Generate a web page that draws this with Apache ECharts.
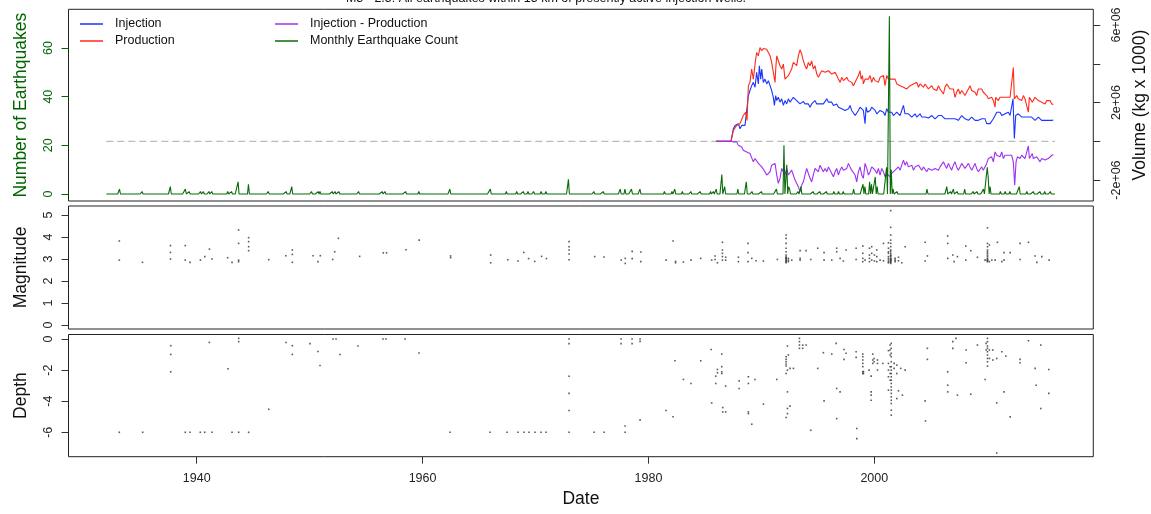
<!DOCTYPE html>
<html><head><meta charset="utf-8">
<script src="https://cdn.jsdelivr.net/npm/echarts@6/dist/echarts.min.js"></script>
<style>html,body{margin:0;padding:0;background:#fff}#c{width:1151px;height:514px}</style>
</head><body><div id="c"></div>
<script>
// ---------- DATA ----------
const titleText = 'M3 - 2.5: All earthquakes within 15 km of presently active injection wells.';
const xTicks = [1940, 1960, 1980, 2000];
const countTicks = [0, 20, 40, 60];
const volTicks = [-2, 0, 2, 4, 6];          // millions (x 1e6)
const volLabels = [-2, 2, 6];
const magTicks = [0, 1, 2, 3, 4, 5];
const depthTicks = [-6, -4, -2, 0];

// volumes in units of 1e6 (kg x 1000)
const injection = [[1986.0,0],[1987.31,0],[1987.52,0.65],[1987.67,0.82],[1987.81,0.74],[1987.96,0.91],[1988.11,0.65],[1988.26,0.82],[1988.40,0.74],[1988.55,0.82],[1988.70,0.91],[1988.85,2.36],[1988.99,2.62],[1989.14,2.87],[1989.29,3.04],[1989.44,2.79],[1989.58,3.56],[1989.73,2.96],[1989.82,3.90],[1989.94,3.21],[1990.03,3.73],[1990.17,3.04],[1990.32,3.21],[1990.47,2.96],[1990.62,3.13],[1990.77,2.87],[1990.91,2.62],[1991.06,2.27],[1991.15,1.85],[1991.27,2.36],[1991.36,2.10],[1991.50,2.27],[1991.65,2.02],[1991.80,2.19],[1991.95,1.85],[1992.09,2.10],[1992.24,1.93],[1992.39,2.19],[1992.54,2.02],[1992.68,1.93],[1992.83,2.27],[1992.98,2.36],[1993.13,2.10],[1993.27,2.02],[1993.42,1.93],[1993.57,2.02],[1993.72,2.05],[1993.86,1.93],[1994.01,1.85],[1994.16,1.93],[1994.31,1.76],[1994.45,1.93],[1994.60,2.02],[1994.75,2.10],[1994.90,1.93],[1995.05,1.85],[1995.19,1.93],[1995.34,1.88],[1995.49,1.93],[1995.64,2.02],
[1995.79,2.19],[1995.94,2.02],[1996.08,1.93],[1996.23,2.02],[1996.38,1.85],[1996.53,1.76],[1996.67,1.93],[1996.82,1.76],[1996.97,1.85],[1997.12,1.68],[1997.26,1.76],[1997.41,1.59],[1997.56,1.50],[1997.71,1.68],[1997.85,1.85],[1998.00,1.59],[1998.15,1.50],[1998.30,1.33],[1998.44,1.25],[1998.59,1.59],[1998.74,1.76],[1998.89,1.85],[1999.03,1.59],[1999.18,0.91],[1999.27,1.76],[1999.39,1.50],[1999.48,1.42],[1999.63,1.59],[1999.77,1.76],[1999.92,1.85],[2000.07,1.59],[2000.22,1.42],[2000.36,1.50],[2000.51,1.59],[2000.66,1.68],[2000.81,1.50],[2000.95,1.33],[2001.10,1.68],[2001.25,1.50],[2001.40,1.42],[2001.54,1.50],[2001.69,1.33],[2001.84,1.42],[2001.99,1.50],[2002.13,1.42],[2002.28,1.33],[2002.43,1.42],[2002.58,1.85],[2002.72,1.42],[2002.87,1.33],[2003.02,1.42],[2003.17,1.33],[2003.32,1.25],[2003.46,1.33],[2003.61,1.42],[2003.76,1.25],[2003.91,1.33],[2004.05,1.42],[2004.20,1.25],[2004.35,1.33],[2004.50,1.25],[2004.64,1.33],[2004.79,1.20],[2004.94,1.25],[2005.09,1.33],[2005.23,1.25],[2005.38,1.16],[2005.53,1.25],[2005.68,1.33],[2005.82,1.25],[2005.97,1.33],[2006.12,1.42],
[2006.26,1.16],[2006.41,1.25],[2006.56,1.16],[2006.70,1.25],[2006.85,1.16],[2007.00,1.25],[2007.15,1.16],[2007.29,1.25],[2007.44,1.08],[2007.59,1.16],[2007.74,1.33],[2007.88,1.25],[2008.03,1.16],[2008.18,1.25],[2008.33,1.08],[2008.47,1.16],[2008.62,1.25],[2008.77,1.16],[2008.92,1.08],[2009.06,1.16],[2009.21,1.08],[2009.36,0.99],[2009.51,1.16],[2009.65,1.08],[2009.80,1.16],[2009.95,0.91],[2010.10,0.99],[2010.25,0.91],[2010.39,0.82],[2010.54,1.16],[2010.69,1.33],[2010.84,1.50],[2010.98,1.42],[2011.13,1.50],[2011.28,1.33],[2011.43,1.25],[2011.57,1.42],[2011.72,1.33],[2011.87,1.50],[2012.02,1.33],[2012.16,1.42],[2012.28,2.19],[2012.40,0.14],[2012.52,1.33],[2012.61,1.25],[2012.75,1.42],[2012.90,1.33],[2013.05,1.25],[2013.20,1.16],[2013.34,1.25],[2013.49,1.33],[2013.64,1.25],[2013.79,1.16],[2013.93,1.25],[2014.08,1.16],[2014.23,1.08],[2014.38,1.16],[2014.53,1.25],[2014.67,1.16],[2014.82,1.08],[2014.97,1.16],[2015.12,1.08],[2015.26,0.99],[2015.41,1.08],[2015.56,0.99],[2015.71,1.08],[2015.85,1.10]];

const production = [[1986.0,0],[1987.31,0],[1987.52,0.56],[1987.81,0.82],[1988.11,0.91],[1988.40,1.33],[1988.61,1.50],[1988.73,1.08],[1988.85,2.87],[1988.99,3.04],[1989.14,3.73],[1989.29,3.21],[1989.44,3.98],[1989.58,4.58],[1989.73,4.41],[1989.88,4.84],[1990.03,4.67],[1990.17,4.79],[1990.32,4.72],[1990.47,4.75],[1990.62,4.67],[1990.77,4.41],[1990.91,4.07],[1991.06,3.56],[1991.21,3.04],[1991.27,3.73],[1991.36,4.41],[1991.50,4.50],[1991.65,3.90],[1991.80,3.73],[1991.95,3.98],[1992.09,3.21],[1992.24,3.13],[1992.39,3.39],[1992.54,3.56],[1992.68,3.73],[1992.83,4.07],[1992.98,4.15],[1993.13,3.90],[1993.27,4.41],[1993.42,4.72],[1993.57,4.50],[1993.72,4.15],[1993.86,3.90],[1994.01,3.73],[1994.16,4.07],[1994.31,3.90],[1994.45,4.15],[1994.60,3.73],[1994.75,3.90],[1994.90,3.47],[1995.05,3.30],[1995.19,3.47],[1995.34,3.64],[1995.49,3.73],[1995.64,3.56],
[1995.94,3.64],[1996.23,3.47],[1996.53,3.56],[1996.82,3.21],[1996.97,3.04],[1997.12,3.30],[1997.26,3.13],[1997.41,3.21],[1997.56,3.30],[1997.71,3.13],[1997.85,3.21],[1998.00,3.04],[1998.15,2.87],[1998.30,2.79],[1998.44,3.21],[1998.59,3.39],[1998.74,3.64],[1998.83,3.21],[1998.95,3.39],[1999.03,2.96],[1999.18,3.21],[1999.33,3.13],[1999.48,3.21],[1999.63,3.39],[1999.77,3.04],[1999.92,3.30],[2000.07,3.13],[2000.22,3.21],[2000.36,3.04],[2000.51,3.30],[2000.66,3.21],[2000.81,3.39],[2000.95,2.87],[2001.10,3.39],[2001.25,3.21],[2001.40,3.30],[2001.54,3.21],[2001.69,3.13],[2001.84,3.21],[2001.99,2.96],[2002.13,3.04],[2002.28,2.87],[2002.43,2.96],[2002.58,2.79],[2002.72,2.87],[2002.87,2.70],[2003.02,2.62],[2003.17,2.87],[2003.32,2.79],[2003.46,2.96],[2003.61,2.87],[2003.76,3.04],[2003.91,2.79],[2004.05,2.96],[2004.20,2.87],[2004.35,2.79],[2004.50,2.96],[2004.64,2.87],[2004.79,2.70],[2004.94,2.79],[2005.09,2.87],[2005.23,2.70],[2005.38,2.79],[2005.53,2.62],[2005.68,2.87],[2005.82,2.70],[2005.97,2.62],[2006.12,2.44],
[2006.26,2.79],[2006.41,2.96],[2006.56,2.87],[2006.70,2.70],[2006.85,2.62],[2007.00,2.70],[2007.15,2.27],[2007.29,2.53],[2007.44,2.70],[2007.59,2.44],[2007.74,2.62],[2007.88,2.53],[2008.03,2.36],[2008.18,2.53],[2008.33,2.70],[2008.47,2.87],[2008.62,2.62],[2008.77,2.70],[2008.92,2.53],[2009.06,2.36],[2009.21,2.70],[2009.36,2.62],[2009.51,2.70],[2009.65,2.53],[2009.80,2.62],[2009.95,2.36],[2010.10,2.19],[2010.25,2.10],[2010.39,2.27],[2010.54,2.10],[2010.69,1.76],[2010.75,2.27],[2010.84,2.36],[2010.98,2.10],[2011.13,2.27],[2011.28,2.19],[2011.43,2.27],[2011.57,2.36],[2011.72,2.27],[2011.87,2.36],[2012.02,2.27],[2012.16,2.36],[2012.31,3.81],[2012.40,2.19],[2012.52,2.27],[2012.61,2.36],[2012.75,2.19],[2012.90,2.27],[2013.05,2.10],[2013.20,2.36],[2013.34,2.19],[2013.49,2.27],[2013.64,1.50],[2013.73,2.27],[2013.88,2.19],[2013.99,2.02],[2014.08,2.10],[2014.23,2.27],[2014.38,2.19],[2014.53,2.10],[2014.67,2.19],[2014.82,2.02],[2014.97,2.10],[2015.12,1.93],[2015.26,2.10],[2015.41,2.02],[2015.56,2.10],[2015.71,1.93],[2015.85,1.90]];

const injMinusProd = [[1986.0,0],[1987.31,0],[1987.52,-0.03],[1987.67,-0.12],[1987.81,-0.03],[1987.96,-0.21],[1988.11,-0.12],[1988.26,-0.29],[1988.40,-0.46],[1988.55,-0.38],[1988.70,-0.55],[1988.85,-0.46],[1988.99,-0.63],[1989.14,-0.72],[1989.29,-1.06],[1989.44,-0.89],[1989.58,-0.97],[1989.73,-1.14],[1989.88,-1.06],[1990.03,-1.32],[1990.17,-1.40],[1990.32,-1.57],[1990.47,-1.74],[1990.62,-1.83],[1990.77,-1.57],[1990.91,-1.23],[1991.06,-1.32],[1991.21,-1.14],[1991.36,-1.74],[1991.50,-2.17],[1991.65,-1.91],[1991.80,-1.40],[1991.95,-1.32],[1992.09,-1.74],[1992.24,-1.40],[1992.39,-1.74],[1992.54,-1.66],[1992.68,-1.49],[1992.83,-1.74],[1992.98,-2.00],[1993.13,-2.09],[1993.27,-2.34],[1993.42,-2.60],[1993.57,-2.26],[1993.72,-2.09],[1993.86,-1.74],[1994.01,-1.40],[1994.16,-1.66],[1994.31,-1.91],[1994.45,-2.09],[1994.60,-1.74],[1994.75,-1.40],[1994.90,-1.32],[1995.05,-1.57],[1995.19,-1.23],[1995.34,-1.32],[1995.49,-1.57],[1995.64,-1.40],
[1995.79,-1.57],[1995.94,-1.32],[1996.08,-1.49],[1996.23,-1.66],[1996.38,-1.83],[1996.53,-1.57],[1996.67,-1.40],[1996.82,-1.74],[1996.97,-1.49],[1997.12,-1.32],[1997.26,-1.49],[1997.41,-1.57],[1997.56,-1.40],[1997.71,-1.14],[1997.85,-1.32],[1998.00,-1.49],[1998.15,-1.40],[1998.30,-1.74],[1998.44,-2.09],[1998.59,-1.57],[1998.74,-1.32],[1998.89,-1.74],[1999.03,-1.91],[1999.18,-1.14],[1999.33,-1.40],[1999.48,-1.74],[1999.63,-1.57],[1999.77,-1.32],[1999.92,-1.23],[2000.07,-1.49],[2000.22,-1.66],[2000.36,-1.40],[2000.51,-1.74],[2000.66,-1.40],[2000.81,-1.57],[2000.95,-1.83],[2001.10,-1.66],[2001.25,-1.74],[2001.40,-1.83],[2001.54,-1.66],[2001.69,-1.57],[2001.84,-1.49],[2001.99,-1.40],[2002.13,-1.32],[2002.28,-1.49],[2002.43,-1.40],[2002.58,-0.97],[2002.72,-1.23],[2002.87,-1.06],[2003.02,-1.32],[2003.17,-1.40],[2003.32,-1.23],[2003.46,-1.49],[2003.61,-1.32],[2003.76,-1.40],[2003.91,-1.23],[2004.05,-1.32],[2004.20,-1.49],[2004.35,-1.32],[2004.50,-1.40],[2004.64,-1.57],[2004.79,-1.40],[2004.94,-1.32],[2005.09,-1.49],[2005.23,-1.57],[2005.38,-1.40],[2005.53,-1.32],[2005.68,-1.49],[2005.82,-1.32],[2005.97,-1.23],[2006.12,-1.06],
[2006.26,-1.23],[2006.41,-1.40],[2006.56,-1.14],[2006.70,-1.32],[2006.85,-1.49],[2007.00,-1.23],[2007.15,-1.06],[2007.29,-1.32],[2007.44,-1.49],[2007.59,-1.32],[2007.74,-1.14],[2007.88,-1.23],[2008.03,-1.40],[2008.18,-1.32],[2008.33,-1.14],[2008.47,-1.32],[2008.62,-1.49],[2008.77,-1.32],[2008.92,-1.14],[2009.06,-1.40],[2009.21,-1.57],[2009.36,-1.49],[2009.51,-1.32],[2009.65,-1.49],[2009.80,-1.40],[2009.95,-1.14],[2010.10,-0.89],[2010.25,-0.97],[2010.39,-0.80],[2010.54,-1.06],[2010.69,-0.55],[2010.84,-0.72],[2010.98,-0.63],[2011.13,-0.80],[2011.28,-0.55],[2011.43,-0.89],[2011.57,-0.72],[2011.72,-0.63],[2011.87,-0.72],[2012.02,-0.80],[2012.16,-0.72],[2012.31,-1.06],[2012.43,-2.26],[2012.55,-1.06],[2012.67,-0.80],[2012.75,-0.72],[2012.90,-0.89],[2013.05,-0.72],[2013.20,-0.63],[2013.34,-0.89],[2013.49,-0.80],[2013.64,-0.24],[2013.73,-0.89],[2013.88,-0.80],[2013.99,-0.63],[2014.08,-0.89],[2014.23,-0.97],[2014.38,-0.80],[2014.53,-0.89],[2014.67,-1.06],[2014.82,-0.89],[2014.97,-0.80],[2015.12,-0.97],[2015.26,-1.06],[2015.41,-0.89],[2015.56,-0.80],[2015.71,-0.72],[2015.85,-0.70]];

const zeroLine = [[1932.0,0],[2016.0,0]];

// months with earthquakes (all other months of 1932-2016 have 0)
const eqYears = [1933.14,1935.19,1937.65,1938.99,1939.32,1940.33,1940.62,1941.09,1941.35,1942.71,1943.07,1943.69,1944.60,1946.33,1947.88,1948.42,1950.19,1950.74,1950.92,1951.98,1952.25,1952.55,1954.32,1956.44,1956.67,1958.51,1959.63,1962.38,1965.99,1967.39,1968.37,1968.89,1969.37,1969.86,1970.47,1970.90,1972.90,1975.14,1975.97,1977.52,1977.95,1978.49,1979.22,1981.38,1982.09,1982.35,1983.01,1983.73,1984.57,1985.46,1985.75,1985.99,1986.49,1986.73,1987.88,1988.70,1989.15,1990.03,1991.30,1992.04,1992.25,1992.39,1992.54,1993.28,1993.49,1994.61,1995.20,1995.79,1996.38,1996.82,1997.26,1998.15,1998.98,1999.18,1999.57,1999.77,2000.07,2000.22,2001.10,2001.34,2001.46,2001.69,2001.99,2004.64,2006.42,2006.71,2007.01,2007.30,2008.04,2008.78,2009.07,2009.66,2009.96,2010.11,2010.25,2011.14,2011.58,2012.02,2012.85,2013.50,2014.09,2014.68,2015.12,2015.57];
const eqCounts = [2,1,3,2,1,1,1,1,1,1,1,5,4,1,1,3,1,1,1,1,1,1,1,1,1,1,1,2,2,1,1,1,1,1,1,1,6,1,1,2,2,2,2,1,1,2,1,1,1,1,1,2,8,3,2,5,1,1,2,20,12,3,2,1,3,1,1,1,1,1,1,2,4,3,5,4,7,3,11,73,10,2,1,2,3,1,2,1,2,1,1,2,11,7,3,1,1,1,3,1,1,1,1,1];

const magnitude = [[1933.15,3.82],[1933.15,2.95],[1935.20,2.85],[1937.68,3.61],[1937.68,3.30],[1937.68,3.00],[1938.99,3.61],[1938.99,2.95],[1939.41,2.85],[1940.33,2.95],[1940.72,3.11],[1941.13,3.45],[1941.35,3.00],[1942.74,3.06],[1943.13,2.85],[1943.71,4.32],[1943.71,3.71],[1943.71,2.95],[1943.71,2.88],[1944.60,3.97],[1944.60,3.79],[1944.60,3.56],[1944.60,3.38],[1946.38,2.97],[1947.89,3.15],[1948.47,3.41],[1948.47,3.21],[1948.47,2.85],[1950.30,3.15],[1950.74,2.88],[1950.95,3.15],[1952.04,2.98],[1952.22,3.33],[1952.55,3.94],[1954.43,3.12],[1956.52,3.28],[1956.81,3.28],[1958.53,3.42],[1959.70,3.86],[1962.48,3.14],[1962.48,3.06],[1966.03,3.18],[1966.03,2.83],[1967.55,2.97],[1968.45,2.91],[1968.96,3.30],[1969.39,3.02],[1969.93,2.89],[1970.54,3.12],[1970.97,3.02],[1972.97,3.79],[1972.97,3.56],[1972.97,3.41],[1972.97,3.23],[1972.97,2.97],[1975.24,3.11],[1976.07,3.09],[1977.59,2.95],[1977.95,3.03],[1977.95,2.80],[1978.56,3.35],[1978.56,3.02],[1979.33,3.32],[1979.33,2.88],[1981.56,2.95],[1982.18,3.82],[1982.40,2.89],[1982.40,2.83],
[1983.10,2.86],[1983.77,2.95],[1984.63,3.03],[1985.60,2.95],[1985.90,3.14],[1985.90,2.98],[1986.11,2.83],[1986.55,3.76],[1986.55,3.41],[1986.55,3.26],[1986.55,3.11],[1986.55,2.95],[1986.84,3.08],[1986.84,2.95],[1987.97,3.08],[1987.97,2.88],[1988.82,3.71],[1988.82,3.29],[1988.82,2.88],[1989.15,3.03],[1989.53,2.92],[1990.18,2.91],[1991.42,2.98],
[1992.19,4.09],[1992.19,3.94],[1992.19,3.71],[1992.19,3.49],[1992.19,3.33],[1992.19,3.18],[1992.19,3.11],[1992.19,3.03],[1992.19,2.95],[1992.19,2.88],[1992.19,2.83],[1992.19,3.00],[1992.19,2.90],[1992.19,3.06],[1992.39,3.03],[1992.39,2.95],[1992.39,2.88],[1992.69,2.95],[1993.43,3.38],[1993.43,3.03],[1993.43,2.95],[1993.96,3.38],[1994.37,2.98],[1994.99,3.49],[1995.55,3.29],[1995.55,2.95],[1996.23,2.95],[1996.67,3.49],[1996.67,3.33],[1996.97,3.03],[1997.26,2.91],[1997.50,3.41],[1998.39,3.49],[1998.39,2.98],[1998.98,3.59],[1998.98,3.26],[1998.98,3.03],[1998.98,2.88],[1999.18,2.95],[1999.57,3.49],[1999.57,3.18],[1999.57,3.03],[1999.57,2.88],[1999.77,3.56],[1999.77,3.26],[1999.77,2.95],[2000.01,3.18],[2000.01,2.91],[2000.22,3.41],[2000.22,3.11],[2000.22,2.88],[2000.51,2.95],[2000.81,3.71],[2000.81,2.92],
[2001.25,3.74],[2001.25,3.49],[2001.25,3.33],[2001.25,3.26],[2001.25,3.11],[2001.25,3.03],[2001.25,2.95],[2001.25,2.88],[2001.25,2.83],[2001.45,5.20],[2001.45,4.44],[2001.45,4.09],[2001.45,3.86],[2001.45,3.71],[2001.45,3.56],[2001.45,3.41],[2001.45,3.26],[2001.45,3.18],[2001.45,3.11],[2001.45,3.03],[2001.45,2.95],[2001.45,2.88],[2001.45,2.80],[2001.45,3.00],[2001.45,2.92],[2001.45,2.85],[2001.45,3.15],[2001.45,3.35],[2001.45,2.98],[2001.84,3.03],[2001.84,2.95],[2001.84,2.88],[2002.14,3.08],[2002.14,2.92],[2002.43,2.83],[2002.73,3.56],
[2004.50,3.76],[2004.50,2.91],[2004.70,3.14],[2006.50,4.05],[2006.50,3.71],[2006.50,3.03],[2006.95,3.18],[2007.07,2.88],[2007.36,3.11],[2008.10,3.59],[2008.10,2.95],[2008.54,3.38],[2009.13,3.08],[2009.81,2.95],[2010.02,4.42],[2010.02,3.71],[2010.02,3.56],[2010.02,3.41],[2010.02,3.33],[2010.02,3.26],[2010.02,3.18],[2010.02,3.11],[2010.02,3.03],[2010.02,2.95],[2010.02,2.88],[2010.02,2.98],[2010.02,2.92],[2010.19,3.64],[2010.19,2.88],[2010.40,2.95],[2010.70,2.95],[2010.90,3.76],[2011.29,2.88],[2011.49,3.29],[2011.49,2.95],[2012.03,3.29],[2012.91,3.71],[2012.91,2.98],[2013.65,3.76],[2014.24,3.14],[2014.39,2.85],[2014.83,3.11],[2015.48,2.95]];

const depth = [[1933.15,-6.0],[1935.22,-6.0],[1937.70,-0.43],[1937.70,-0.99],[1937.70,-2.11],[1938.99,-6.0],[1939.41,-6.0],[1940.32,-6.0],[1940.71,-6.0],[1941.12,-0.22],[1941.35,-6.0],[1942.77,-1.91],[1943.13,-6.0],[1943.72,0.04],[1943.72,-0.17],[1943.72,-6.0],[1944.60,-6.0],[1946.38,-4.52],[1947.91,-0.22],[1948.47,-0.43],[1948.47,-0.99],
[1950.03,-0.3],[1950.74,-0.8],[1950.92,-1.7],[1952.07,0.0],[1952.34,0.0],[1952.69,-1.0],[1954.28,-0.45],[1956.50,0.0],[1956.76,0.0],[1958.45,0.0],[1959.69,-0.9],[1962.43,-6.0],[1965.97,-6.0],[1967.48,-6.0],[1968.45,-6.0],[1968.98,-6.0],[1969.43,-6.0],[1969.96,-6.0],[1970.49,-6.0],[1970.93,-6.0],[1972.97,0.0],[1972.97,-0.3],[1972.97,-2.4],[1972.97,-3.5],[1972.97,-4.6],[1972.97,-6.0],[1975.19,-6.0],[1976.08,-6.0],[1977.58,0.0],[1977.58,-0.3],[1977.93,-5.6],[1977.93,-6.0],[1978.55,0.0],[1978.55,-0.3],[1979.26,0.0],[1979.26,-0.15],[1979.26,-5.2],[1981.56,-4.6],[1982.18,-5.0],[1982.35,-1.4],
[1983.10,-2.60],[1983.77,-2.86],[1984.63,-1.40],[1985.55,-0.67],[1985.60,-4.11],[1985.96,-2.39],[1985.96,-2.86],[1986.11,-1.96],[1986.11,-2.17],[1986.49,-0.97],[1986.49,-1.78],[1986.49,-2.11],[1986.49,-2.22],[1986.58,-4.41],[1986.58,-4.69],[1986.84,-3.03],[1986.84,-4.69],[1988.03,-2.69],[1988.03,-3.18],[1988.85,-2.43],[1988.85,-2.86],[1988.85,-4.69],[1988.85,-4.80],[1989.15,-5.48],[1989.44,-2.60],[1990.18,-4.19],[1991.36,-2.60],
[1992.19,-1.14],[1992.19,-1.31],[1992.19,-1.46],[1992.19,-1.61],[1992.19,-1.74],[1992.19,-2.22],[1992.19,-5.05],[1992.31,-0.45],[1992.31,-2.00],[1992.31,-3.40],[1992.31,-4.47],[1992.31,-4.80],[1992.39,-1.03],[1992.54,-1.89],[1992.54,-4.32],[1992.84,-1.89],[1993.37,0.04],[1993.37,-0.17],[1993.37,-0.39],[1993.37,-0.60],[1993.66,-0.39],[1993.66,-0.60],[1993.96,-0.39],[1994.37,-5.87],[1994.99,-1.89],[1995.49,-0.88],[1995.55,-3.98],[1996.23,-0.97],[1996.62,-0.28],[1996.67,-3.18],[1996.67,-5.12],[1996.97,-3.40],[1997.32,-0.67],[1997.32,-1.31],[1997.50,-0.92],[1998.39,-0.82],[1998.39,-1.18],[1998.45,-5.76],[1998.45,-6.41],
[1998.98,-0.97],[1998.98,-1.14],[1998.98,-1.35],[1998.98,-1.57],[1998.98,-1.78],[1998.98,-2.11],[1998.98,-2.22],[1999.04,-2.09],[1999.04,-2.22],[1999.54,-2.00],[1999.72,-2.39],[1999.72,-3.40],[1999.72,-3.61],[1999.72,-3.94],[1999.86,-0.97],[1999.86,-1.35],[1999.86,-1.57],[1999.98,-1.25],[1999.98,-1.46],[2000.28,-1.35],[2000.28,-1.57],[2000.28,-2.00],[2000.75,-1.57],
[2001.25,-0.75],[2001.25,-1.57],[2001.25,-2.00],[2001.25,-2.43],[2001.25,-3.29],[2001.40,-0.39],[2001.40,-0.71],[2001.40,-1.03],[2001.40,-1.78],[2001.40,-2.22],[2001.40,-2.65],[2001.50,-0.28],[2001.50,-0.60],[2001.50,-0.92],[2001.50,-1.14],[2001.50,-1.46],[2001.50,-1.78],[2001.50,-2.00],[2001.50,-2.22],[2001.50,-2.43],[2001.50,-2.65],[2001.50,-2.86],[2001.50,-3.08],[2001.50,-3.29],[2001.50,-3.50],[2001.50,-3.72],[2001.50,-3.94],[2001.50,-4.15],[2001.50,-4.58],[2001.50,-4.90],[2001.75,-1.57],[2001.75,-1.89],[2001.99,-1.68],[2001.99,-2.22],[2001.99,-3.83],[2002.14,-3.33],[2002.34,-1.89],[2002.49,-3.61],[2002.73,-2.00],
[2004.50,-3.98],[2004.53,-5.27],[2004.70,-0.60],[2004.70,-1.31],[2006.50,-2.11],[2006.50,-2.97],[2006.50,-3.40],[2006.95,-0.17],[2006.95,-0.60],[2007.24,0.04],[2007.36,-3.61],[2008.13,-0.71],[2008.13,-1.53],[2008.54,-3.55],[2009.13,-0.39],[2009.81,-2.60],[2009.90,-0.28],[2009.90,-0.71],[2010.02,0.04],[2010.02,-0.17],[2010.02,-0.45],[2010.02,-0.60],[2010.02,-0.82],[2010.02,-1.03],[2010.02,-1.25],[2010.02,-1.46],[2010.02,-1.74],[2010.19,-0.71],[2010.19,-1.25],[2010.49,-0.71],[2010.49,-1.35],[2010.84,-1.25],[2010.84,-4.11],[2010.84,-7.33],[2011.29,-0.82],[2011.49,-3.40],[2011.64,-1.10],[2012.03,-5.01],[2012.91,-1.31],[2012.91,-1.53],[2013.65,-0.11],[2014.24,-1.89],[2014.33,-2.97],[2014.74,-0.39],[2014.74,-4.47],[2015.45,-1.96],[2015.45,-3.50]];

// ---------- BUILD ----------
const monthly = [];
const nMonths = (2016 - 1932) * 12;
for (let k = 0; k <= nMonths; k++) monthly.push(0);
eqYears.forEach((y, i) => { const k = Math.round((y - 1932) * 12); monthly[k] += eqCounts[i]; });
const countSeries = monthly.map((c, k) => [1932 + k / 12, c]);

const FONT = 'Liberation Sans, Arial, Helvetica, sans-serif';
const XMIN = 1928.65, XMAX = 2019.39;
const L = 68.5, W = 1024.8;
const BOX = '#222';
const GREEN = '#006400';

const grids = [
  {left: L, width: W, top: 9.3, height: 191.7},
  {left: L, width: W, top: 206, height: 123},
  {left: L, width: W, top: 334.5, height: 122.2}
].map(g => Object.assign(g, {show: true, borderColor: BOX, borderWidth: 1, containLabel: false, outerBoundsMode: 'none'}));

function xAx(i, labels) {
  return {
    type: 'value', gridIndex: i, min: XMIN, max: XMAX, position: 'bottom',
    axisLine: {show: false, onZero: false}, splitLine: {show: false},
    axisTick: {show: labels, inside: false, length: 7, lineStyle: {color: '#333'}, customValues: xTicks},
    axisLabel: {show: labels, customValues: xTicks, margin: 15, fontSize: 12.5, color: '#222', fontFamily: FONT,
      formatter: v => String(v)},
    name: labels ? 'Date' : '', nameLocation: 'middle', nameGap: 33,
    nameTextStyle: {fontSize: 17.5, color: '#111', fontFamily: FONT}
  };
}
function yAx(o) {
  return Object.assign({
    type: 'value', position: 'left',
    axisLine: {show: false, onZero: false}, splitLine: {show: false},
    nameLocation: 'middle', nameRotate: 90,
    nameTextStyle: {fontSize: 17.5, color: '#111', fontFamily: FONT}
  }, o);
}
const legendText = {fontSize: 12.5, color: '#111', lineHeight: 14, padding: [0, 0, 0, 7], fontFamily: FONT};

const option = {
  animation: false,
  backgroundColor: '#fff',
  textStyle: {fontFamily: FONT},
  graphic: [{type: 'text', x: 546, y: -8, style: {text: titleText, font: '12.5px ' + FONT, fill: '#111', textAlign: 'center', textVerticalAlign: 'top'}}],
  grid: grids,
  legend: [
    {data: ['Injection', 'Production'], orient: 'vertical', left: 75, top: 12, icon: 'rect', itemWidth: 23, itemHeight: 1.5, itemGap: 3,
     textStyle: legendText, selectedMode: false},
    {data: ['Injection - Production', 'Monthly Earthquake Count'], orient: 'vertical', left: 270, top: 12, icon: 'rect', itemWidth: 23, itemHeight: 1.5, itemGap: 3,
     textStyle: legendText, selectedMode: false}
  ],
  xAxis: [xAx(0, false), xAx(1, false), xAx(2, true)],
  yAxis: [
    yAx({gridIndex: 0, min: -2.88, max: 75.9, name: 'Number of Earthquakes', nameGap: 38,
      nameTextStyle: {fontSize: 17.5, color: GREEN, fontFamily: FONT},
      axisTick: {length: 7, lineStyle: {color: GREEN}, customValues: countTicks},
      axisLabel: {customValues: countTicks, rotate: 90, margin: 13, fontSize: 12.5, color: GREEN, fontFamily: FONT}}),
    yAx({gridIndex: 0, position: 'right', min: -3.08, max: 6.81, name: 'Volume (kg x 1000)', nameGap: 36,
      axisTick: {length: 7, lineStyle: {color: '#333'}, customValues: volTicks},
      axisLabel: {customValues: volLabels, rotate: 90, margin: 17, fontSize: 12.5, color: '#222', fontFamily: FONT,
        formatter: v => v + 'e+06'}}),
    yAx({gridIndex: 1, min: -0.18, max: 5.41, name: 'Magnitude', nameGap: 38,
      axisTick: {length: 7, lineStyle: {color: '#333'}, customValues: magTicks},
      axisLabel: {customValues: magTicks, rotate: 90, margin: 13, fontSize: 12.5, color: '#222', fontFamily: FONT}}),
    yAx({gridIndex: 2, min: -7.57, max: 0.29, name: 'Depth', nameGap: 38,
      axisTick: {length: 7, lineStyle: {color: '#333'}, customValues: depthTicks},
      axisLabel: {customValues: depthTicks, rotate: 90, margin: 13, fontSize: 12.5, color: '#222', fontFamily: FONT}})
  ],
  series: [
    {name: '', type: 'line', xAxisIndex: 0, yAxisIndex: 1, data: zeroLine, showSymbol: false, silent: true,
     lineStyle: {color: '#aaaaaa', width: 1, type: [7, 4]}, z: 1},
    {name: 'Injection', type: 'line', xAxisIndex: 0, yAxisIndex: 1, data: injection, showSymbol: false,
     color: '#1a35ff', lineStyle: {color: '#1a35ff', width: 1.1}, itemStyle: {color: '#1a35ff'}, z: 2},
    {name: 'Production', type: 'line', xAxisIndex: 0, yAxisIndex: 1, data: production, showSymbol: false,
     color: '#ff2a1a', lineStyle: {color: '#ff2a1a', width: 1.1}, itemStyle: {color: '#ff2a1a'}, z: 3},
    {name: 'Injection - Production', type: 'line', xAxisIndex: 0, yAxisIndex: 1, data: injMinusProd, showSymbol: false,
     color: '#a030f0', lineStyle: {color: '#a030f0', width: 1.1}, itemStyle: {color: '#a030f0'}, z: 4},
    {name: 'Monthly Earthquake Count', type: 'line', xAxisIndex: 0, yAxisIndex: 0, data: countSeries, showSymbol: false,
     color: '#0b6b0b', lineStyle: {color: '#0b6b0b', width: 1.1}, itemStyle: {color: '#0b6b0b'}, z: 5},
    {name: 'mag', type: 'scatter', xAxisIndex: 1, yAxisIndex: 2, data: magnitude, symbol: 'rect', symbolSize: 1.6,
     itemStyle: {color: '#333'}, silent: true},
    {name: 'depth', type: 'scatter', xAxisIndex: 2, yAxisIndex: 3, data: depth, symbol: 'rect', symbolSize: 1.6,
     itemStyle: {color: '#333'}, silent: true}
  ]
};
const chart = echarts.init(document.getElementById('c'), null, {renderer: 'canvas'});
chart.setOption(option);
</script></body></html>
